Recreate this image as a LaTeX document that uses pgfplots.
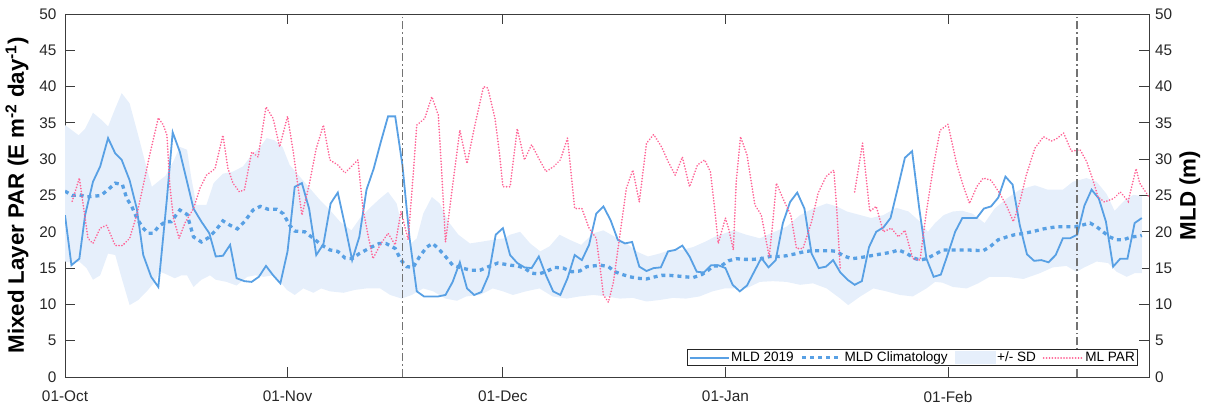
\documentclass[border=0pt]{standalone}
\usepackage{pgfplots}
\pgfplotsset{compat=1.18}
\usepgfplotslibrary{fillbetween}
\usepackage{fontspec}
\setmainfont{Liberation Sans}
\definecolor{mldblue}{RGB}{88,160,228}
\definecolor{bandblue}{RGB}{230,239,251}
\definecolor{parpink}{RGB}{255,100,150}
\definecolor{axgray}{RGB}{60,60,60}
\definecolor{vgray}{RGB}{115,115,115}
\begin{document}
\begin{tikzpicture}
\begin{axis}[
  at={(0,0)}, anchor=south west,
  scale only axis, width=1084bp, height=363bp,
  xmin=0, xmax=151, ymin=0, ymax=50,
  xtick={0,31,61,92,123},
  xticklabels={01-Oct,01-Nov,01-Dec,01-Jan,01-Feb},
  ytick={0,5,...,50},
  xtick pos=both, ytick pos=both,
  xticklabel pos=bottom, yticklabel pos=left,
  tick align=inside, major tick length=10bp,
  axis line style={axgray, line width=0.9bp},
  tick style={axgray, line width=0.9bp},
  /pgf/number format/assume math mode=true,
  ticklabel style={font=\fontsize{15.4}{17}\selectfont, text=black!85},
  xticklabel style={yshift=-14bp, inner sep=0pt},
  yticklabel style={xshift=-5bp},
  ylabel={\textbf{Mixed Layer PAR (E m\textsuperscript{-2} day\textsuperscript{-1})}},
  ylabel style={at={(axis description cs:-0.0443,0.5)}, anchor=center, rotate=0, font=\fontsize{22.4}{24}\selectfont},
  unbounded coords=jump,
  legend style={at={(axis description cs:1,0)}, anchor=south east, xshift=-11bp, yshift=11bp,
    legend columns=4, font=\fontsize{13.6}{15}\selectfont, draw=black!85, line width=0.8bp,
    inner xsep=1bp, inner ysep=0.5bp,
    nodes={inner sep=1.8bp},
    /tikz/every even column/.append style={column sep=5bp}},
  legend cell align=left,
]
% SD band
\addplot[name path=up, draw=none, forget plot] coordinates {
(0,34.7) (1.9,33.3) (2.8,34.2) (3.9,36.4) (5.1,35.4) (6,34.5) (7,37.0) (7.9,39.1) (9,37.7) (10.2,33.3) (11.4,28.7) (12.1,26.2) (13.2,27.1) (14,27.7) (15.1,29.7) (16,31.7) (17,31.3) (17.6,27.4) (18.3,23.7) (19.7,23.7) (20.7,26.7) (22,28.0) (23.4,28.3) (24.8,29.0) (26,30.6) (27.2,31.7) (28.1,32.9) (29.2,32.6) (30.3,31.7) (31.3,29.2) (32.7,27.6) (34.1,26.0) (35.5,24.4) (36.9,23.0) (38.3,21.4) (39.9,20.2) (41.1,21.9) (42.7,23.5) (43.9,24.6) (45,25.5) (46.2,23.9) (47.1,20.0) (48,18.2) (49,19.1) (49.9,22.5) (51.1,24.8) (52.2,23.9) (53.4,21.4) (54.8,19.6) (56.4,18.4) (57.8,18.6) (59.6,18.9) (61.2,19.1) (62,19.6) (63.4,20.0) (64.8,18.4) (66.2,17.3) (67.5,18.0) (68.9,19.6) (70.3,18.9) (71.9,18.2) (73.6,19.8) (75,20.2) (76.6,19.3) (78,18.6) (79.6,17.3) (81.2,16.6) (82.8,17.0) (84.3,17.5) (85.9,17.5) (87.5,17.9) (89.1,18.6) (90.5,19.3) (91.9,19.8) (93.1,20.2) (94.9,19.6) (96.8,19.1) (98.6,19.9) (100.5,20.7) (102.4,22.3) (104.2,23.2) (106.1,23.9) (107.5,23.5) (108.9,22.8) (110.8,22.3) (112.3,21.9) (114,22.3) (115.8,23.3) (117.5,22.8) (119.1,21.4) (120.2,20.0) (121.2,21.2) (122.4,22.3) (123.7,22.8) (125,22.9) (126.4,22.5) (128.1,21.2) (129.5,23.2) (131.2,24.6) (133,25.8) (135.1,26.4) (136.9,25.8) (139,25.8) (140.4,26.9) (142.3,27.4) (143.7,26.9) (145.1,25.2) (146.2,22.9) (147.6,24.3) (148.8,25.1) (150,24.9)
};
\addplot[name path=lo, draw=none, forget plot] coordinates {
(0,15.9) (1.1,15.7) (2,15.9) (3,15.0) (3.9,13.4) (4.9,14.0) (6,17.0) (7,16.8) (7.9,13.6) (9,9.9) (10.2,10.6) (11.4,11.8) (12.5,13.1) (13.2,14.5) (14,14.2) (15.3,13.6) (16.2,14.0) (17,14.0) (17.9,12.4) (19,13.4) (20.2,14.0) (21,13.4) (22.5,13.1) (23.9,12.6) (25.4,13.8) (26.5,14.0) (27.7,13.8) (28.9,14.0) (30,13.1) (30.9,12.0) (32,11.3) (33.2,12.2) (34.6,11.6) (35.7,12.2) (36.9,11.8) (38.8,11.6) (40.4,12.0) (42,12.2) (43.9,12.2) (45.3,11.3) (46.9,10.8) (48.3,11.3) (49.9,12.2) (51.3,11.8) (53,10.8) (54.6,10.5) (55.9,11.1) (57.8,11.3) (59.6,12.2) (61,11.8) (62.4,11.3) (64.2,11.8) (66.1,12.2) (67.9,11.1) (69.9,10.8) (71.7,11.1) (73.6,11.3) (75.4,11.1) (77.3,10.8) (79.1,10.9) (81,10.4) (82.8,10.6) (84.7,10.9) (86.5,10.8) (88.4,11.1) (90.2,11.8) (91.9,12.2) (93.1,12.2) (94.9,12.2) (96.8,13.1) (98.6,13.2) (100.5,13.1) (102.4,12.7) (104.2,12.9) (106.1,12.2) (108,10.8) (109.1,9.9) (110.8,11.1) (112.6,12.2) (114.4,11.8) (116.3,11.3) (118.1,11.1) (120,12.2) (121.2,13.1) (122.2,13.0) (123.7,12.4) (125.6,12.2) (127.2,12.9) (128.8,13.8) (131.2,13.8) (133.5,13.5) (135.8,14.3) (137.6,15.1) (139.5,15.3) (140.9,14.5) (142,15.1) (143.7,15.9) (145.3,15.7) (146.5,14.5) (147.9,13.8) (149,14.3) (150,14.3)
};
\addplot[bandblue, forget plot] fill between[of=up and lo];
% MLD climatology
\addplot[mldblue, line width=3.3bp, dash pattern=on 4bp off 4bp, forget plot] coordinates {
(0,25.6) (1,25.0) (2,25.1) (3,24.8) (5,25.0) (6,25.8) (7,26.7) (8,26.5) (8.6,24.6) (9.3,23.5) (10,21.9) (10.8,20.6) (11.6,19.8) (12.3,19.8) (13,20.7) (14,21.4) (14.8,21.4) (16,23.0) (17,22.4) (17.9,19.3) (19,18.6) (20,19.2) (21,20.2) (22,21.5) (23,20.9) (24,20.4) (25,21.4) (26.2,23.0) (27.2,23.5) (28.3,23.1) (29.5,23.1) (30.4,22.5) (31.3,20.9) (32,20.1) (33.4,20.0) (34.6,19.1) (35.7,18.2) (36.9,17.5) (38,17.3) (39,16.4) (40,16.3) (41,17.0) (42.7,17.9) (43.8,18.4) (44.7,18.4) (46,17.7) (46.8,16.1) (47.6,15.2) (48.5,15.1) (49.4,16.6) (50.4,17.9) (51.2,18.4) (52,17.7) (53,16.6) (54,15.4) (55.3,15.0) (56.6,14.7) (57.8,14.7) (59,15.2) (60.3,15.7) (62,15.4) (63,15.3) (64,15.0) (65,14.3) (66,14.2) (67,14.5) (68.2,15.1) (69.4,15.0) (70.6,14.5) (71.7,14.6) (72.7,15.2) (73.6,15.3) (74.6,15.4) (75.7,15.2) (76.6,14.5) (77.7,14.1) (78.7,13.8) (79.8,13.6) (81,13.5) (82.2,13.8) (83.1,14.0) (84.2,14.0) (85.4,13.9) (86.4,13.8) (87.5,13.7) (88.7,14.1) (89.6,14.7) (90.3,15.3) (91.4,15.3) (92.4,16.0) (93.5,16.3) (94.7,16.2) (95.8,16.2) (97,16.3) (98.2,16.6) (99.4,16.6) (100.5,16.7) (101.9,17.0) (103.1,17.3) (104.3,17.4) (105.4,17.4) (106.6,17.4) (107.5,17.3) (108.4,16.7) (109.6,16.3) (110.5,16.4) (111.7,16.6) (112.8,16.8) (114,17.0) (115.2,17.2) (116.1,17.5) (117.3,17.0) (118.2,16.4) (119.1,16.1) (120,16.3) (121.2,16.9) (122.3,17.5) (123.7,17.5) (125.6,17.5) (127.9,17.4) (128.8,17.9) (130,18.9) (131.2,19.3) (132.3,19.6) (133.7,19.8) (135.1,20.1) (136.3,20.4) (137.5,20.6) (138.3,20.7) (139.5,20.7) (140.7,20.7) (141.6,20.9) (142.8,21.2) (143.7,20.7) (144.6,20.0) (145.5,19.3) (146.5,18.9) (147.4,18.9) (148.6,19.3) (149.7,19.4) (150,19.5)
};
% MLD 2019
\addplot[mldblue, line width=1.8bp, forget plot] coordinates {
(0,22.3) (0.9,15.4) (2,16.3) (2.8,22.3) (3.9,26.9) (4.9,29.0) (6,32.9) (7,30.8) (7.9,29.9) (9,27.1) (10,23.2) (10.9,16.8) (12,13.8) (13,12.4) (14.2,24.6) (15,33.7) (16,31.0) (17,26.9) (17.9,23.2) (19,21.4) (20.1,19.8) (21,16.6) (22,16.7) (23,18.2) (23.9,13.6) (25,13.2) (26,13.1) (27,13.8) (28,15.3) (29,14.0) (30,12.9) (31,17.3) (32,26.2) (33,26.7) (34,23.2) (35,16.8) (36,18.3) (37,23.9) (38,25.4) (39,20.9) (40,16.1) (41,19.3) (42,25.8) (43,28.7) (44,32.4) (45,35.9) (46,35.9) (47,29.2) (48,19.1) (49,11.8) (50,11.1) (51,11.1) (52,11.1) (53,11.3) (54,13.1) (55,15.8) (56,12.2) (57,11.3) (58,11.7) (59,14.0) (60,19.6) (61,20.5) (62,16.8) (63,15.7) (64,15.1) (65,15.0) (66,16.6) (67,14.0) (68,11.8) (69,11.3) (70,13.6) (71,16.8) (72,16.1) (73,18.2) (74,22.5) (75,23.5) (76,21.6) (77,18.9) (78,18.4) (79,18.6) (80,15.2) (81,14.6) (82,15.0) (83,15.1) (84,17.3) (85,17.5) (86,18.1) (87,16.6) (88,14.5) (89,14.4) (90,15.4) (91,15.4) (92,15.0) (93,12.7) (94,11.8) (95,12.6) (96,14.5) (97,16.4) (98,15.1) (99,16.1) (100,21.2) (101,24.1) (102,25.4) (103,23.2) (104,17.0) (105,15.0) (106,15.2) (107,16.1) (108,14.4) (109,13.4) (110,12.7) (111,13.2) (112,17.9) (113,20.0) (114,20.6) (115,21.9) (116,26.0) (117,30.2) (118,31.1) (119,23.2) (120,16.3) (121,13.8) (122,14.1) (123,17.0) (124,20.0) (125,21.9) (126,21.9) (127,21.9) (128,23.2) (129,23.5) (130,24.7) (131,27.6) (132,26.5) (133,20.9) (134,16.9) (135,16.0) (136,16.1) (137,15.8) (138,16.8) (139,19.1) (140,19.1) (141,19.6) (142,23.6) (143,25.8) (144,24.6) (145,21.4) (146,15.2) (147,16.3) (148,16.3) (149,21.2) (150,21.9)
};
% ML PAR
\addplot[parpink, line width=1.8bp, line cap=round, dash pattern=on 0.1bp off 2.8bp, forget plot] coordinates {
(1,24.2) (2,27.4) (2.8,21.9) (3.2,19.1) (3.9,18.4) (4.9,20.5) (5.8,20.9) (7,18.1) (8,18.1) (9,19.1) (10,22.3) (10.9,26.4) (11.8,30.6) (13,35.7) (13.7,34.7) (14.2,33.3) (14.6,26.4) (15.1,21.9) (15.9,19.1) (16.7,21.2) (17.9,23.2) (18.8,26.0) (19.7,27.8) (20.9,28.7) (22,33.3) (22.7,28.7) (23.4,26.7) (24.3,25.5) (25,25.8) (26,31.0) (26.9,30.3) (28,37.2) (29,35.6) (29.9,31.7) (31,35.9) (31.8,31.0) (33,22.3) (34,26.4) (35,31.5) (36,34.7) (36.9,29.9) (38,29.2) (39,28.1) (39.9,29.0) (40.8,29.9) (41.5,23.2) (42.2,19.6) (42.9,16.3) (43.9,18.2) (45,19.8) (46,18.2) (46.8,22.8) (47.8,18.9) (48.5,27.8) (49,34.7) (50.1,35.6) (51.1,38.6) (52,36.1) (52.5,27.8) (53,18.6) (54,26.4) (55,34.0) (56,29.4) (57.1,34.7) (58.3,40.0) (58.9,39.8) (59.9,35.6) (60.5,31.0) (61,26.2) (62,26.2) (63,34.2) (64,29.9) (65,32.0) (66,30.1) (67,28.3) (68.1,29.0) (69,29.9) (70,32.9) (71,23.2) (72,23.2) (73,20.5) (74,19.1) (74.5,15.4) (75,11.3) (75.7,10.3) (76.4,13.1) (77.3,19.6) (78.2,26.0) (79.1,28.5) (80,24.1) (81,32.2) (82,33.4) (83.1,31.7) (84,29.7) (85,27.8) (86,30.3) (87,26.2) (88.1,29.2) (89.1,29.9) (89.9,28.3) (90.5,23.2) (91,18.4) (92,21.9) (92.5,20.2) (93.1,17.5) (93.5,26.9) (94.1,33.1) (95,30.6) (96.1,23.7) (97,22.3) (97.7,18.6) (98.1,16.6) (98.6,21.4) (99.1,26.7) (100,24.6) (101.1,22.3) (101.9,17.7) (102.8,17.7) (104,21.4) (104.9,25.3) (106,27.6) (107.1,28.5) (107.5,23.2) (108,14.7) (109,nan) (110,25.5) (111.1,32.2) (112.1,22.8) (113,23.5) (114,20.0) (115.1,20.5) (116.1,19.3) (117,20.2) (118.1,16.3) (119.1,16.1) (120,22.8) (121,29.2) (121.9,34.0) (123,34.8) (124.2,29.4) (125.1,26.4) (126,23.9) (127,26.2) (127.9,27.4) (129,27.1) (130.2,25.3) (131.2,23.5) (132.1,21.4) (133,24.1) (133.9,27.8) (135.1,31.5) (136.3,33.1) (137.4,32.5) (138.1,32.8) (139.1,33.6) (140.2,31.1) (141.4,31.3) (142.3,29.7) (143.2,27.1) (143.9,24.8) (144.8,24.1) (146.1,24.6) (147,25.5) (148.1,24.2) (149.2,28.7) (149.7,26.7) (151,24.8)
};
% event lines
\addplot[vgray, line width=1.8bp, dash pattern=on 8bp off 3bp on 1.8bp off 3bp, forget plot] coordinates {(47,0) (47,50)};
\addplot[vgray, line width=1.8bp, dash pattern=on 8bp off 3bp on 1.8bp off 3bp, forget plot] coordinates {(141,0) (141,50)};
% legend
\addlegendimage{legend image code/.code={\draw[mldblue, line width=1.8bp] (0bp,0bp) -- (39bp,0bp);}}
\addlegendentry{MLD 2019}
\addlegendimage{legend image code/.code={\draw[mldblue, line width=3.3bp, dash pattern=on 4bp off 4bp] (0bp,0bp) -- (39bp,0bp);}}
\addlegendentry{MLD Climatology}
\addlegendimage{legend image code/.code={\fill[bandblue] (0bp,-6bp) rectangle (40bp,6bp);}}
\addlegendentry{+/- SD}
\addlegendimage{legend image code/.code={\draw[parpink, line width=1.8bp, line cap=round, dash pattern=on 0.1bp off 2.8bp] (0bp,0bp) -- (39bp,0bp);}}
\addlegendentry{ML PAR}
\end{axis}
\begin{axis}[
  at={(0,0)}, anchor=south west,
  scale only axis, width=1084bp, height=363bp,
  xmin=0, xmax=151, ymin=0, ymax=50,
  hide x axis,
  axis line style={draw=none},
  ytick={0,5,...,50},
  ytick pos=right, yticklabel pos=right,
  tick style={draw=none},
  /pgf/number format/assume math mode=true,
  ticklabel style={font=\fontsize{15.4}{17}\selectfont, text=black!85},
  yticklabel style={xshift=2.5bp},
  ylabel={\textbf{MLD (m)}},
  ylabel style={at={(axis description cs:1.0378,0.5)}, anchor=center, rotate=0, font=\fontsize{22.4}{24}\selectfont},
]
\addplot[draw=none] coordinates {(0,0)};
\end{axis}
\pgfresetboundingbox
\useasboundingbox (-65bp,-29bp) rectangle (1142bp,377bp);
\end{tikzpicture}
\end{document}
